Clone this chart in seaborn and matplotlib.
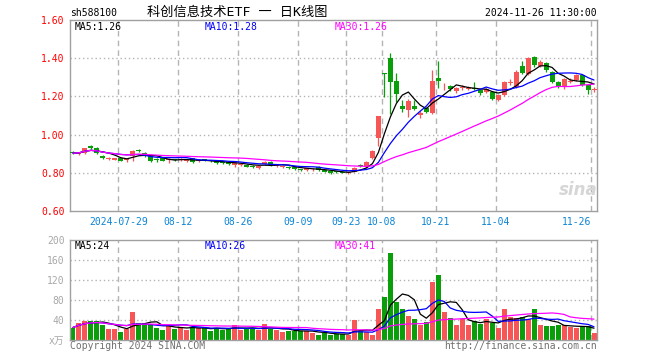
import numpy as np
import pandas as pd
import matplotlib
matplotlib.use("Agg")
import matplotlib.pyplot as plt
import seaborn as sns

# ---------------- data ----------------
opens = [0.905, 0.898, 0.904, 0.940, 0.930, 0.888, 0.873, 0.869, 0.877, 0.865,
         0.886, 0.918, 0.905, 0.886, 0.869, 0.877, 0.866, 0.869, 0.866, 0.862,
         0.877, 0.861, 0.868, 0.866, 0.865, 0.853, 0.856, 0.843, 0.840, 0.840,
         0.836, 0.826, 0.845, 0.858, 0.835, 0.829, 0.832, 0.830, 0.817, 0.816,
         0.818, 0.830, 0.814, 0.808, 0.806, 0.803, 0.797, 0.806, 0.842, 0.828,
         0.876, 0.984, 1.320, 1.400, 1.281, 1.151, 1.129, 1.150, 1.103, 1.140,
         1.115, 1.298, 1.253, 1.256, 1.230, 1.244, 1.240, 1.245, 1.233, 1.225,
         1.221, 1.181, 1.207, 1.272, 1.251, 1.359, 1.317, 1.405, 1.359, 1.373,
         1.330, 1.277, 1.248, 1.278, 1.286, 1.312, 1.260, 1.235]
closes = [0.903, 0.906, 0.930, 0.931, 0.904, 0.875, 0.875, 0.877, 0.864, 0.874,
          0.916, 0.915, 0.888, 0.861, 0.867, 0.864, 0.874, 0.867, 0.873, 0.868,
          0.856, 0.864, 0.866, 0.860, 0.851, 0.851, 0.846, 0.856, 0.846, 0.832,
          0.828, 0.836, 0.858, 0.839, 0.840, 0.838, 0.826, 0.818, 0.815, 0.824,
          0.822, 0.815, 0.806, 0.800, 0.804, 0.801, 0.803, 0.827, 0.838, 0.858,
          0.914, 1.097, 1.316, 1.277, 1.211, 1.134, 1.176, 1.135, 1.113, 1.120,
          1.281, 1.281, 1.257, 1.237, 1.245, 1.248, 1.245, 1.240, 1.216, 1.240,
          1.185, 1.207, 1.277, 1.276, 1.330, 1.321, 1.400, 1.364, 1.382, 1.338,
          1.274, 1.248, 1.290, 1.282, 1.312, 1.260, 1.233, 1.238]
highs = [0.912, 0.910, 0.932, 0.945, 0.933, 0.892, 0.882, 0.880, 0.880, 0.877,
         0.918, 0.925, 0.910, 0.890, 0.877, 0.880, 0.877, 0.874, 0.876, 0.872,
         0.879, 0.870, 0.872, 0.869, 0.867, 0.858, 0.858, 0.858, 0.850, 0.844,
         0.840, 0.839, 0.862, 0.861, 0.844, 0.841, 0.836, 0.833, 0.822, 0.827,
         0.826, 0.833, 0.817, 0.811, 0.812, 0.808, 0.806, 0.829, 0.848, 0.860,
         0.918, 1.098, 1.320, 1.426, 1.320, 1.180, 1.186, 1.180, 1.125, 1.145,
         1.338, 1.387, 1.270, 1.262, 1.250, 1.258, 1.255, 1.274, 1.236, 1.245,
         1.225, 1.212, 1.280, 1.290, 1.340, 1.385, 1.405, 1.410, 1.388, 1.380,
         1.335, 1.282, 1.295, 1.295, 1.318, 1.318, 1.265, 1.248]
lows = [0.897, 0.893, 0.900, 0.925, 0.900, 0.872, 0.868, 0.866, 0.860, 0.855,
        0.863, 0.908, 0.885, 0.858, 0.855, 0.860, 0.850, 0.862, 0.862, 0.855,
        0.853, 0.855, 0.860, 0.856, 0.848, 0.846, 0.843, 0.830, 0.836, 0.828,
        0.824, 0.820, 0.840, 0.835, 0.831, 0.824, 0.822, 0.815, 0.808, 0.810,
        0.812, 0.811, 0.802, 0.796, 0.798, 0.797, 0.793, 0.803, 0.828, 0.825,
        0.872, 0.940, 1.198, 1.110, 1.172, 1.117, 1.094, 1.130, 1.085, 1.115,
        1.108, 1.243, 1.235, 1.230, 1.220, 1.235, 1.232, 1.232, 1.205, 1.220,
        1.180, 1.175, 1.200, 1.262, 1.245, 1.315, 1.310, 1.355, 1.352, 1.330,
        1.268, 1.243, 1.240, 1.272, 1.280, 1.255, 1.210, 1.225]
volumes = [25, 34, 39, 39, 38, 30, 22, 22, 17, 22,
           57, 34, 34, 32, 25, 20, 30, 23, 27, 20,
           25, 25, 24, 19, 25, 20, 25, 30, 20, 23,
           23, 20, 32, 23, 20, 16, 19, 18, 18, 19,
           15, 10, 14, 10, 13, 12, 11, 40, 19, 17,
           10, 62, 86, 174, 76, 62, 48, 42, 30, 36,
           116, 130, 56, 44, 30, 42, 30, 38, 33, 42,
           34, 24, 62, 46, 44, 46, 42, 62, 30, 28,
           28, 30, 30, 26, 24, 26, 28, 14]

tick_idx = [8, 18, 28, 38, 46, 52, 61, 71, 87]
tick_labels = ["2024-07-29", "08-12", "08-26", "09-09", "09-23",
               "10-08", "10-21", "11-04", "11-26"]
price_ticks = [0.60, 0.80, 1.00, 1.20, 1.40, 1.60]
vol_ticks = [0, 40, 80, 120, 160, 200]
vol_tick_labels = ["x万", "40", "80", "120", "160", "200"]
price_ma_labels = ["MA5:1.26", "MA10:1.28", "MA30:1.26"]
vol_ma_labels = ["MA5:24", "MA10:26", "MA30:41"]

# ---------------- styling ----------------
sns.set_style("white")
plt.rcParams["font.family"] = ["DejaVu Sans Mono", "Noto Sans CJK SC"]

RED = "#f65656"
GREEN = "#0a9e0a"
GRID = "#b4b4b4"
SPINE = "#a0a0a0"
MA_COLORS = ["#000000", "#0000ff", "#ff00ff"]
W, H = 660, 360

df = pd.DataFrame({"idx": np.arange(len(closes)), "open": opens, "close": closes,
                   "high": highs, "low": lows, "vol": volumes})
df["up"] = df["close"] >= df["open"]
df["color"] = np.where(df["up"], RED, GREEN)
for n in (5, 10, 30):
    df[f"ma{n}"] = df["close"].rolling(n, min_periods=1).mean()
    df[f"vma{n}"] = df["vol"].rolling(n, min_periods=1).mean()

fig = plt.figure(figsize=(W / 100, H / 100), dpi=100)


def rect(l, t, r, b):
    return [l / W, 1 - b / H, (r - l) / W, (b - t) / H]


axp = fig.add_axes(rect(70, 20, 597, 211))
axv = fig.add_axes(rect(70, 240, 597, 340))

BW = 0.835
grid_x = [i - 0.42 for i in tick_idx]

for ax in (axp, axv):
    ax.set_xlim(-0.5, len(closes) - 0.5)
    for s in ax.spines.values():
        s.set_color(SPINE)
        s.set_linewidth(1.0)
    for gx in grid_x:
        ax.axvline(gx, color=GRID, lw=1.0, ls=(0, (4, 3)), zorder=0)

# ---- price panel ----
axp.set_ylim(0.60, 1.60)
for yv in price_ticks[1:-1]:
    axp.axhline(yv, color=GRID, lw=1.0, ls=(0, (1, 2)), zorder=0)

axp.vlines(df["idx"], df["low"], df["high"], colors=df["color"], lw=0.9, zorder=2)
body_bottom = np.minimum(df["open"], df["close"])
body_h = np.maximum(np.abs(df["close"] - df["open"]), 0.004)
axp.bar(df["idx"], body_h, bottom=body_bottom, width=BW, color=df["color"],
        linewidth=0, zorder=3)

for n, c in zip((5, 10, 30), MA_COLORS):
    sns.lineplot(data=df, x="idx", y=f"ma{n}", ax=axp, color=c, lw=0.9, zorder=4)

axp.set_yticks(price_ticks)
axp.set_yticklabels([f"{v:.2f}" for v in price_ticks])
axp.tick_params(axis="y", length=0, pad=4, labelsize=7, labelcolor="#ff0000")
axp.set_xticks(grid_x)
axp.set_xticklabels(tick_labels)
axp.tick_params(axis="x", length=0, pad=4, labelsize=7, labelcolor="#0a84d6")
xt = axp.get_xticklabels()
xt[-1].set_ha("right")
axp.set_xlabel("")
axp.set_ylabel("")

for lab, c, x in zip(price_ma_labels, MA_COLORS, (75, 205, 335)):
    fig.text(x / W, 1 - 26.5 / H, lab, color=c, fontsize=7, va="center", ha="left")

fig.text(578 / W, 1 - 190 / H, "sina", color="#d6d6d6", fontsize=12,
         fontstyle="italic", fontweight="bold", family="DejaVu Sans",
         ha="center", va="center")

# ---- volume panel ----
axv.set_ylim(0, 200)
for yv in vol_ticks[1:-1]:
    axv.axhline(yv, color=GRID, lw=1.0, ls=(0, (1, 2)), zorder=0)
axv.bar(df["idx"], df["vol"], width=BW, color=df["color"], linewidth=0, zorder=2)
for n, c in zip((5, 10, 30), MA_COLORS):
    sns.lineplot(data=df, x="idx", y=f"vma{n}", ax=axv, color=c, lw=0.9, zorder=3)
axv.set_yticks(vol_ticks)
axv.set_yticklabels(vol_tick_labels)
axv.tick_params(axis="y", length=0, pad=4, labelsize=7, labelcolor="#a8a8a8")
axv.set_xticks([])
axv.set_xlabel("")
axv.set_ylabel("")

for lab, c, x in zip(vol_ma_labels, MA_COLORS, (75, 205, 335)):
    fig.text(x / W, 1 - 246 / H, lab, color=c, fontsize=7, va="center", ha="left")

# ---- header / footer texts ----
fig.text(70 / W, 1 - 13 / H, "sh588100", fontsize=7, color="#000000", va="center", ha="left")
fig.text(237 / W, 1 - 12.5 / H, "科创信息技术ETF 一 日K线图", fontsize=9.5,
         color="#000000", va="center", ha="center")
fig.text(597 / W, 1 - 13 / H, "2024-11-26 11:30:00", fontsize=7, color="#000000",
         va="center", ha="right")
fig.text(70 / W, 1 - 346 / H, "Copyright 2024 SINA.COM", fontsize=7, color="#707070",
         va="center", ha="left")
fig.text(597 / W, 1 - 346 / H, "http://finance.sina.com.cn", fontsize=7, color="#707070",
         va="center", ha="right")

fig.savefig("out.png", dpi=100, facecolor="white")
